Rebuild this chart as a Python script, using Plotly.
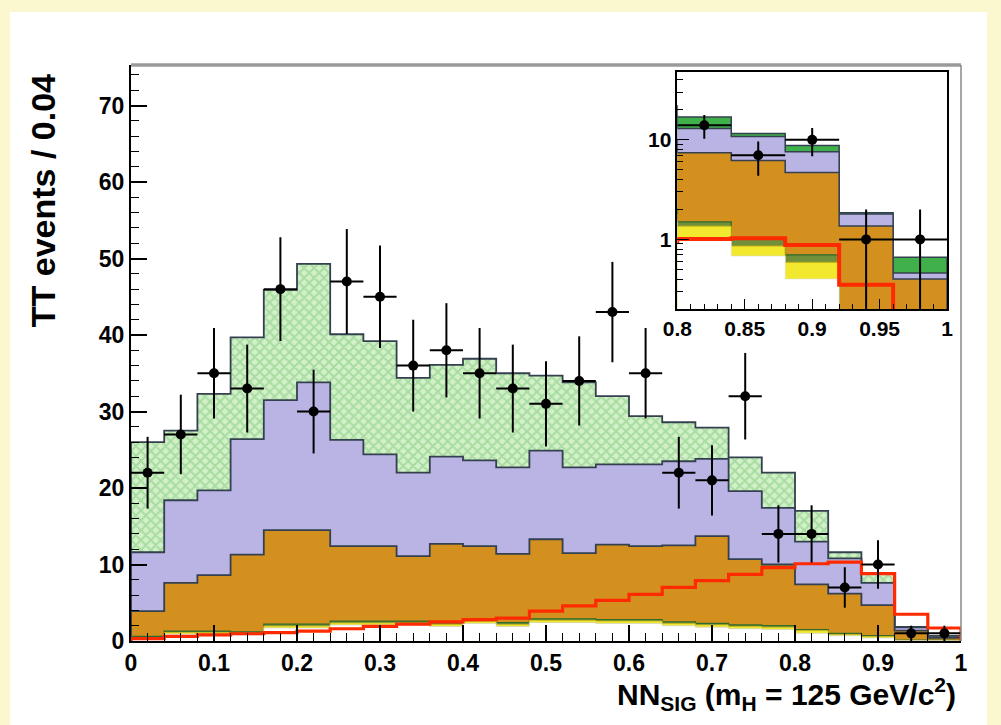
import numpy as np
import plotly.graph_objects as go

# ---- binning: NN output, 25 bins of width 0.04 ----
BIN_WIDTH = 0.04
EDGES = np.round(np.linspace(0.0, 1.0, 26), 4)
CENTERS = (EDGES[:-1] + EDGES[1:]) / 2

# ---- expected background contributions per bin (bottom of stack first) ----
white_bkg = [0.30, 0.90, 0.90, 0.80, 1.70, 1.70, 2.10, 2.10, 2.10, 1.90, 2.30, 1.90, 2.40,
             2.40, 2.30, 2.30, 2.00, 1.80, 1.60, 1.50, 1.00, 0.68, 0.40, 0.06, 0.02]
yellow_bkg = [0.15, 0.20, 0.20, 0.20, 0.25, 0.25, 0.25, 0.25, 0.25, 0.25, 0.25, 0.25, 0.30,
              0.30, 0.30, 0.30, 0.30, 0.30, 0.30, 0.30, 0.36, 0.18, 0.19, 0.05, 0.02]
dkgreen_bkg = [0.15, 0.20, 0.20, 0.20, 0.25, 0.25, 0.25, 0.25, 0.25, 0.25, 0.25, 0.25, 0.20,
               0.20, 0.20, 0.20, 0.20, 0.20, 0.20, 0.20, 0.14, 0.14, 0.11, 0.04, 0.04]
orange_bkg = [3.3, 6.3, 7.3, 10.1, 12.3, 12.3, 9.8, 9.8, 8.5, 10.3, 9.6, 9.0, 10.4,
              8.6, 9.8, 9.6, 10.0, 11.4, 8.6, 8.0, 5.9, 5.2, 4.0, 1.21, 0.32]
lavender_bkg = [7.7, 10.8, 11.1, 15.1, 17.0, 19.3, 13.9, 12.0, 10.9, 11.4, 11.2, 11.3, 11.6,
                11.2, 10.5, 10.7, 11.0, 10.1, 8.9, 7.4, 5.6, 4.6, 2.9, 0.44, 0.06]
green_bkg = [14.4, 9.1, 12.6, 13.3, 14.4, 15.5, 13.8, 14.8, 12.4, 12.0, 13.3, 12.3, 9.8,
             11.1, 8.9, 6.3, 5.1, 4.1, 4.4, 4.6, 4.0, 0.8, 1.2, 0.05, 0.20]

# ---- expected Higgs signal (m_H = 125), drawn x10 in the main panel ----
signal = [0.03, 0.06, 0.08, 0.095, 0.11, 0.13, 0.16, 0.19, 0.22, 0.25, 0.28, 0.30, 0.39,
          0.46, 0.53, 0.61, 0.70, 0.79, 0.87, 0.96, 1.01, 1.03, 0.88, 0.35, 0.17]
SIGNAL_SCALE = 10

# ---- observed events ----
data_counts = [22, 27, 35, 33, 46, 30, 47, 45, 36, 38, 35, 33, 31,
               34, 43, 35, 22, 21, 32, 14, 14, 7, 10, 1, 1]

# ---- styling ----
FONT = "Liberation Sans"
OUTLINE = "#34404f"
C_ORANGE = "#D3901F"
C_LAV = "#B9B4E4"
C_GREEN_BG = "#D3F1C9"
C_GREEN_FG = "#7EC77A"
C_GREEN_SOLID = "#40B04B"
C_YELLOW = "#F2E92E"
C_DKGREEN = "#2F6B2A"
C_RED = "#FF2A00"

layers = [white_bkg, yellow_bkg, dkgreen_bkg, orange_bkg, lavender_bkg, green_bkg]
cumulative = np.cumsum(np.array(layers, dtype=float), axis=0)
cum_white, cum_yellow, cum_dkgreen, cum_orange, cum_lav, cum_total = cumulative


def step_outline(values, base):
    xs, ys = [EDGES[0]], [base]
    for i, v in enumerate(values):
        xs += [EDGES[i], EDGES[i + 1]]
        ys += [v, v]
    xs.append(EDGES[-1])
    ys.append(base)
    return xs, ys


def hist_area(values, base, fillcolor, linecolor, linewidth, axes=("x", "y"), pattern=None):
    xs, ys = step_outline(values, base)
    kw = dict(x=xs, y=ys, mode="lines", fill="toself", fillcolor=fillcolor,
              line=dict(color=linecolor, width=linewidth), hoverinfo="skip",
              showlegend=False, xaxis=axes[0], yaxis=axes[1])
    if pattern is not None:
        kw["fillpattern"] = pattern
    return go.Scatter(**kw)


fig = go.Figure()

# ---------------- main panel: stacked backgrounds ----------------
hatch = dict(shape="x", bgcolor=C_GREEN_BG, fgcolor=C_GREEN_FG, size=7, solidity=0.5)
fig.add_trace(hist_area(cum_total, 0, C_GREEN_BG, OUTLINE, 1.8, pattern=hatch))
fig.add_trace(hist_area(cum_lav, 0, C_LAV, OUTLINE, 1.8))
fig.add_trace(hist_area(cum_orange, 0, C_ORANGE, OUTLINE, 1.8))
fig.add_trace(hist_area(cum_dkgreen, 0, "#6f8f3a", C_DKGREEN, 1.2))
fig.add_trace(hist_area(cum_yellow, 0, C_YELLOW, "#c9b820", 0.8))
fig.add_trace(hist_area(cum_white, 0, "white", "#c8c8c8", 0.6))

# signal x10 as an unfilled step line
sx, sy = step_outline(np.array(signal) * SIGNAL_SCALE, 0)
fig.add_trace(go.Scatter(x=sx, y=sy, mode="lines", line=dict(color=C_RED, width=3.2),
                         hoverinfo="skip", showlegend=False))

# observed data with Poisson errors
data_err = np.sqrt(np.array(data_counts, dtype=float))
fig.add_trace(go.Scatter(
    x=CENTERS, y=data_counts, mode="markers",
    marker=dict(color="black", size=10),
    error_y=dict(type="data", array=data_err, color="black", thickness=2, width=0),
    error_x=dict(type="constant", value=BIN_WIDTH / 2, color="black", thickness=2, width=0),
    hoverinfo="skip", showlegend=False))

# ---------------- inset: high-NN region on a log scale ----------------
LOG_BASE = 1e-3
ins = ("x2", "y2")
fig.add_trace(hist_area(cum_total, LOG_BASE, C_GREEN_SOLID, OUTLINE, 1.5, axes=ins))
fig.add_trace(hist_area(cum_lav, LOG_BASE, C_LAV, OUTLINE, 1.5, axes=ins))
fig.add_trace(hist_area(cum_orange, LOG_BASE, C_ORANGE, OUTLINE, 1.5, axes=ins))
fig.add_trace(hist_area(cum_dkgreen, LOG_BASE, "#6f8f3a", C_DKGREEN, 1.2, axes=ins))
fig.add_trace(hist_area(cum_yellow, LOG_BASE, C_YELLOW, "#b8a818", 1.0, axes=ins))
fig.add_trace(hist_area(cum_white, LOG_BASE, "white", "#dddddd", 0.6, axes=ins))

ix, iy = step_outline(signal, LOG_BASE)
fig.add_trace(go.Scatter(x=ix, y=iy, mode="lines", line=dict(color=C_RED, width=4),
                         hoverinfo="skip", showlegend=False, xaxis="x2", yaxis="y2"))

mask = CENTERS > 0.8
in_counts = np.array(data_counts, dtype=float)[mask]
in_err = np.sqrt(in_counts)
fig.add_trace(go.Scatter(
    x=CENTERS[mask], y=in_counts, mode="markers",
    marker=dict(color="black", size=10),
    error_y=dict(type="data", array=in_err, arrayminus=np.minimum(in_err, in_counts * 0.999),
                 color="black", thickness=2, width=0),
    error_x=dict(type="constant", value=BIN_WIDTH / 2, color="black", thickness=2, width=0),
    hoverinfo="skip", showlegend=False, xaxis="x2", yaxis="y2"))

# ---------------- layout ----------------
tickfont = dict(family=FONT, size=23, color="black")
inset_font = dict(family=FONT, size=21, color="black")

fig.update_layout(
    width=1001, height=725,
    margin=dict(l=131, r=40, t=65, b=84),
    font=dict(family=FONT, color="black", weight="bold"),
    paper_bgcolor="#FBF8D0",
    plot_bgcolor="white",
    showlegend=False,
    xaxis=dict(domain=[0, 1], range=[0, 1], tick0=0, dtick=0.1,
               showline=True, linecolor="black", linewidth=2,
               ticks="inside", ticklen=16, tickwidth=1.5, tickcolor="black",
               minor=dict(ticks="inside", ticklen=8, dtick=0.02, tick0=0, tickcolor="black", tickwidth=1.2),
               showgrid=False, zeroline=False, tickfont=tickfont),
    yaxis=dict(domain=[0, 1], range=[0, 75.3], tick0=0, dtick=10,
               showline=True, linecolor="black", linewidth=2,
               ticks="inside", ticklen=16, tickwidth=1.5, tickcolor="black",
               minor=dict(ticks="inside", ticklen=8, dtick=2, tick0=0, tickcolor="black", tickwidth=1.2),
               showgrid=False, zeroline=False, tickfont=tickfont),
    xaxis2=dict(domain=[0.6582, 0.9832], anchor="y2", range=[0.8, 1.0], tick0=0.8, dtick=0.05,
                showline=True, mirror=True, linecolor="black", linewidth=1.5,
                ticks="inside", ticklen=10, tickwidth=1.2, tickcolor="black",
                minor=dict(ticks="inside", ticklen=5, dtick=0.01, tick0=0.8, tickcolor="black"),
                showgrid=False, zeroline=False, tickfont=inset_font),
    yaxis2=dict(domain=[0.5764, 0.9878], anchor="x2", type="log",
                range=[np.log10(0.2), np.log10(48)],
                tickmode="array", tickvals=[1, 10], ticktext=["1", "10"],
                showline=True, mirror=True, linecolor="black", linewidth=1.5,
                ticks="inside", ticklen=12, tickwidth=1.2, tickcolor="black",
                minor=dict(ticks="inside", ticklen=6, tickcolor="black", tickmode="array",
                           tickvals=[0.2, 0.3, 0.4, 0.5, 0.6, 0.7, 0.8, 0.9,
                                     2, 3, 4, 5, 6, 7, 8, 9, 20, 30, 40]),
                showgrid=False, zeroline=False, tickfont=inset_font),
    shapes=[
        # white canvas inside the coloured border
        dict(type="rect", xref="paper", yref="paper", x0=-0.1458, x1=1.0313, y0=-0.147, y1=1.092,
             fillcolor="white", line=dict(width=0), layer="below"),
        # upper and right frame edges
        dict(type="line", xref="paper", yref="paper", x0=0, x1=1, y0=1, y1=1,
             line=dict(color="#9a9a9a", width=3.5)),
        dict(type="line", xref="paper", yref="paper", x0=1, x1=1, y0=0, y1=1,
             line=dict(color="#8a8a8a", width=1.5)),
    ],
    annotations=[
        dict(text="TT events / 0.04", xref="paper", yref="paper", x=-0.105, y=0.765,
             xanchor="center", yanchor="middle", textangle=-90, showarrow=False,
             font=dict(family=FONT, size=34, color="black", weight="bold")),
        dict(text="NN<sub>SIG</sub> (m<sub>H</sub> = 125 GeV/c<sup>2</sup>)",
             xref="paper", yref="paper", x=0.9964, y=-0.092,
             xanchor="right", yanchor="middle", showarrow=False,
             font=dict(family=FONT, size=30, color="black", weight="bold")),
    ],
)

fig.write_html("out.html")
